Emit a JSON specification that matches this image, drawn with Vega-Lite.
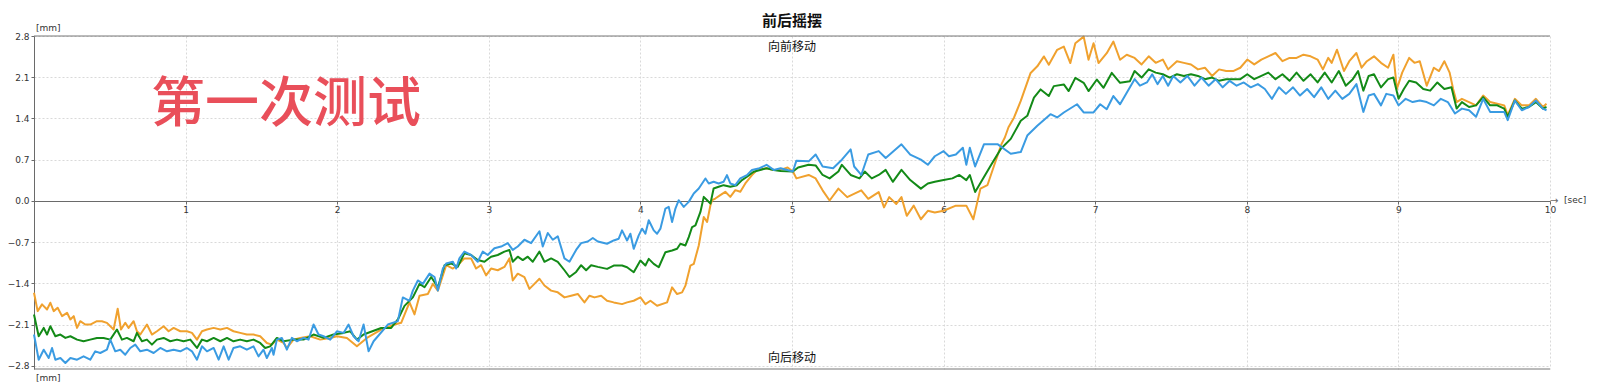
{
  "$schema": "https://vega.github.io/schema/vega-lite/v6.json",
  "width": 1516,
  "height": 333,
  "autosize": "none",
  "padding": {"left": 34, "top": 36, "right": 53, "bottom": 20},
  "background": "white",
  "title": {"text": "前后摇摆", "font": "Noto Sans CJK SC", "fontSize": 15, "fontWeight": "bold", "color": "#111", "anchor": "middle", "offset": 5, "dy": 10},
  "config": {
    "view": {"stroke": null},
    "axis": {"labelFont": "DejaVu Sans", "labelFontSize": 9, "labelColor": "#333", "domainColor": "#6a6a6a", "tickColor": "#6a6a6a", "gridColor": "#d9d9d9", "gridDash": [2, 2], "gridWidth": 1}
  },
  "datasets": {
    "orange": [
      {"t":0,"v":-1.559},{"t":0.024,"v":-1.872},{"t":0.053,"v":-1.758},{"t":0.086,"v":-1.844},{"t":0.108,"v":-1.73},{"t":0.13,"v":-1.872},{"t":0.156,"v":-1.815},{"t":0.185,"v":-1.957},{"t":0.218,"v":-1.901},{"t":0.24,"v":-2.014},{"t":0.262,"v":-1.957},{"t":0.284,"v":-2.157},{"t":0.305,"v":-2.043},{"t":0.338,"v":-2.1},{"t":0.371,"v":-2.1},{"t":0.415,"v":-2.043},{"t":0.448,"v":-2.043},{"t":0.481,"v":-2.071},{"t":0.525,"v":-2.185},{"t":0.552,"v":-1.832},{"t":0.574,"v":-2.185},{"t":0.602,"v":-2.071},{"t":0.624,"v":-2.157},{"t":0.657,"v":-2.043},{"t":0.679,"v":-2.214},{"t":0.701,"v":-2.27},{"t":0.745,"v":-2.1},{"t":0.778,"v":-2.27},{"t":0.811,"v":-2.214},{"t":0.855,"v":-2.128},{"t":0.888,"v":-2.214},{"t":0.921,"v":-2.157},{"t":0.965,"v":-2.214},{"t":1.009,"v":-2.214},{"t":1.042,"v":-2.242},{"t":1.075,"v":-2.356},{"t":1.108,"v":-2.214},{"t":1.141,"v":-2.185},{"t":1.185,"v":-2.157},{"t":1.229,"v":-2.185},{"t":1.273,"v":-2.157},{"t":1.316,"v":-2.214},{"t":1.36,"v":-2.242},{"t":1.404,"v":-2.27},{"t":1.448,"v":-2.27},{"t":1.492,"v":-2.299},{"t":1.536,"v":-2.413},{"t":1.569,"v":-2.441},{"t":1.602,"v":-2.356},{"t":1.646,"v":-2.413},{"t":1.668,"v":-2.498},{"t":1.712,"v":-2.356},{"t":1.756,"v":-2.327},{"t":1.822,"v":-2.299},{"t":1.888,"v":-2.356},{"t":1.954,"v":-2.327},{"t":1.998,"v":-2.299},{"t":2.064,"v":-2.327},{"t":2.13,"v":-2.47},{"t":2.196,"v":-2.327},
      {"t":2.29,"v":-2.186},{"t":2.378,"v":-2.1},{"t":2.422,"v":-2.071},{"t":2.477,"v":-1.725},{"t":2.51,"v":-1.927},{"t":2.543,"v":-1.61},{"t":2.598,"v":-1.581},{"t":2.631,"v":-1.409},{"t":2.664,"v":-1.524},{"t":2.719,"v":-1.092},{"t":2.763,"v":-1.149},{"t":2.795,"v":-1.092},{"t":2.839,"v":-0.977},{"t":2.883,"v":-0.977},{"t":2.916,"v":-1.149},{"t":2.949,"v":-1.092},{"t":2.982,"v":-1.265},{"t":3.015,"v":-1.149},{"t":3.059,"v":-1.178},{"t":3.103,"v":-1.121},{"t":3.136,"v":-0.977},{"t":3.158,"v":-1.351},{"t":3.191,"v":-1.236},{"t":3.235,"v":-1.293},{"t":3.268,"v":-1.495},{"t":3.301,"v":-1.409},{"t":3.334,"v":-1.322},{"t":3.367,"v":-1.437},{"t":3.411,"v":-1.524},{"t":3.455,"v":-1.553},{"t":3.499,"v":-1.639},{"t":3.543,"v":-1.61},{"t":3.587,"v":-1.581},{"t":3.631,"v":-1.725},{"t":3.664,"v":-1.61},{"t":3.697,"v":-1.639},{"t":3.741,"v":-1.61},
      {"t":3.78,"v":-1.696},{"t":3.824,"v":-1.724},{"t":3.879,"v":-1.753},{"t":3.912,"v":-1.724},{"t":3.956,"v":-1.696},{"t":4.0,"v":-1.639},{"t":4.033,"v":-1.753},{"t":4.066,"v":-1.696},{"t":4.11,"v":-1.781},{"t":4.176,"v":-1.724},{"t":4.209,"v":-1.468},{"t":4.242,"v":-1.582},{"t":4.275,"v":-1.554},{"t":4.297,"v":-1.44},{"t":4.33,"v":-1.098},{"t":4.352,"v":-1.07},{"t":4.385,"v":-0.757},{"t":4.418,"v":-0.273},{"t":4.44,"v":-0.359},{"t":4.462,"v":-0.074},{"t":4.473,"v":0.011},{"t":4.494,"v":0.04},{"t":4.527,"v":0.097},{"t":4.56,"v":0.154},{"t":4.593,"v":0.068},{"t":4.626,"v":0.182},{"t":4.659,"v":0.154},{"t":4.692,"v":0.296},{"t":4.736,"v":0.438},{"t":4.769,"v":0.524},
      {"t":4.832,"v":0.555},{"t":4.879,"v":0.526},{"t":4.925,"v":0.526},{"t":4.971,"v":0.567},{"t":5.006,"v":0.498},{"t":5.029,"v":0.382},{"t":5.11,"v":0.44},{"t":5.156,"v":0.382},{"t":5.202,"v":0.179},{"t":5.248,"v":0.006},{"t":5.306,"v":0.208},{"t":5.364,"v":0.064},{"t":5.457,"v":0.179},{"t":5.503,"v":0.035},{"t":5.572,"v":0.15},{"t":5.607,"v":-0.11},{"t":5.641,"v":0.064},{"t":5.688,"v":-0.052},{"t":5.722,"v":0.064},{"t":5.757,"v":-0.254},{"t":5.803,"v":-0.081},{"t":5.85,"v":-0.312},{"t":5.896,"v":-0.168},{"t":5.942,"v":-0.197},{"t":6.0,"v":-0.168},{"t":6.081,"v":-0.081},{"t":6.15,"v":-0.081},{"t":6.196,"v":-0.312},{"t":6.243,"v":0.208},{"t":6.289,"v":0.266},{"t":6.335,"v":0.613},{"t":6.381,"v":0.96},{"t":6.404,"v":1.076},{"t":6.428,"v":1.25},
      {"t":6.465,"v":1.417},{"t":6.509,"v":1.697},{"t":6.574,"v":2.173},{"t":6.618,"v":2.285},{"t":6.662,"v":2.453},{"t":6.694,"v":2.313},{"t":6.749,"v":2.565},{"t":6.793,"v":2.621},{"t":6.836,"v":2.341},{"t":6.869,"v":2.677},{"t":6.924,"v":2.789},{"t":6.956,"v":2.397},{"t":6.989,"v":2.677},{"t":7.022,"v":2.341},{"t":7.076,"v":2.509},{"t":7.12,"v":2.705},{"t":7.164,"v":2.397},{"t":7.208,"v":2.481},
      {"t":7.26,"v":2.428},{"t":7.306,"v":2.317},{"t":7.353,"v":2.455},{"t":7.399,"v":2.344},{"t":7.446,"v":2.4},{"t":7.481,"v":2.233},{"t":7.539,"v":2.372},{"t":7.585,"v":2.344},{"t":7.632,"v":2.317},{"t":7.678,"v":2.233},{"t":7.724,"v":2.261},{"t":7.771,"v":2.122},{"t":7.817,"v":2.233},{"t":7.864,"v":2.205},{"t":7.91,"v":2.205},{"t":7.957,"v":2.261},{"t":8.003,"v":2.4},{"t":8.049,"v":2.317},{"t":8.096,"v":2.4},{"t":8.142,"v":2.455},{"t":8.189,"v":2.511},{"t":8.235,"v":2.372},{"t":8.282,"v":2.428},{"t":8.328,"v":2.428},{"t":8.374,"v":2.483},{"t":8.421,"v":2.455},{"t":8.467,"v":2.4},{"t":8.502,"v":2.233},{"t":8.537,"v":2.428},{"t":8.56,"v":2.344},{"t":8.595,"v":2.567},{"t":8.641,"v":2.205},{"t":8.676,"v":2.372},{"t":8.723,"v":2.511},{"t":8.757,"v":2.261},{"t":8.792,"v":2.372},{"t":8.839,"v":2.455},{"t":8.885,"v":2.344},{"t":8.932,"v":2.261},{"t":8.967,"v":2.483},{"t":8.99,"v":1.9},{"t":9.025,"v":2.178},{"t":9.071,"v":2.428},{"t":9.106,"v":2.344},{"t":9.141,"v":2.372},{"t":9.187,"v":1.956},{"t":9.234,"v":2.261},{"t":9.268,"v":2.205},{"t":9.303,"v":2.372},{"t":9.338,"v":2.178},{"t":9.361,"v":1.9},{"t":9.384,"v":1.678},{"t":9.419,"v":1.733},{"t":9.466,"v":1.678},{"t":9.512,"v":1.622},{"t":9.559,"v":1.789},{"t":9.605,"v":1.678},{"t":9.652,"v":1.65},{"t":9.698,"v":1.622},{"t":9.721,"v":1.455},{"t":9.768,"v":1.733},{"t":9.814,"v":1.622},{"t":9.861,"v":1.622},{"t":9.907,"v":1.733},{"t":9.953,"v":1.594},{"t":9.977,"v":1.65}
    ],
    "green": [
      {"t":0,"v":-1.929},{"t":0.031,"v":-2.299},{"t":0.064,"v":-2.157},{"t":0.086,"v":-2.27},{"t":0.108,"v":-2.128},{"t":0.141,"v":-2.299},{"t":0.174,"v":-2.27},{"t":0.207,"v":-2.327},{"t":0.24,"v":-2.299},{"t":0.284,"v":-2.356},{"t":0.327,"v":-2.384},{"t":0.371,"v":-2.356},{"t":0.415,"v":-2.327},{"t":0.459,"v":-2.327},{"t":0.503,"v":-2.356},{"t":0.547,"v":-2.185},{"t":0.58,"v":-2.356},{"t":0.613,"v":-2.327},{"t":0.657,"v":-2.384},{"t":0.679,"v":-2.242},{"t":0.712,"v":-2.384},{"t":0.745,"v":-2.356},{"t":0.778,"v":-2.441},{"t":0.811,"v":-2.356},{"t":0.855,"v":-2.327},{"t":0.899,"v":-2.384},{"t":0.943,"v":-2.356},{"t":0.987,"v":-2.384},{"t":1.031,"v":-2.356},{"t":1.075,"v":-2.498},{"t":1.108,"v":-2.356},{"t":1.141,"v":-2.384},{"t":1.185,"v":-2.327},{"t":1.229,"v":-2.384},{"t":1.273,"v":-2.327},{"t":1.316,"v":-2.384},{"t":1.36,"v":-2.356},{"t":1.404,"v":-2.384},{"t":1.448,"v":-2.356},{"t":1.492,"v":-2.413},{"t":1.525,"v":-2.498},{"t":1.558,"v":-2.47},{"t":1.602,"v":-2.327},{"t":1.646,"v":-2.384},{"t":1.712,"v":-2.356},{"t":1.778,"v":-2.356},{"t":1.844,"v":-2.27},{"t":1.91,"v":-2.327},{"t":1.976,"v":-2.27},{"t":2.042,"v":-2.242},{"t":2.086,"v":-2.214},{"t":2.13,"v":-2.356},{"t":2.174,"v":-2.27},
      {"t":2.29,"v":-2.158},{"t":2.356,"v":-2.158},{"t":2.4,"v":-2.014},{"t":2.444,"v":-1.783},{"t":2.499,"v":-1.639},{"t":2.543,"v":-1.409},{"t":2.576,"v":-1.466},{"t":2.62,"v":-1.293},{"t":2.664,"v":-1.466},{"t":2.708,"v":-1.092},{"t":2.752,"v":-1.063},{"t":2.795,"v":-1.121},{"t":2.839,"v":-0.89},{"t":2.883,"v":-0.919},{"t":2.927,"v":-1.005},{"t":2.971,"v":-1.034},{"t":3.015,"v":-0.948},{"t":3.059,"v":-0.919},{"t":3.103,"v":-0.861},{"t":3.136,"v":-0.833},{"t":3.158,"v":-1.034},{"t":3.191,"v":-0.948},{"t":3.224,"v":-1.005},{"t":3.257,"v":-0.948},{"t":3.29,"v":-1.034},{"t":3.334,"v":-0.861},{"t":3.367,"v":-1.034},{"t":3.411,"v":-0.977},{"t":3.455,"v":-1.034},{"t":3.499,"v":-1.178},{"t":3.532,"v":-1.293},{"t":3.576,"v":-1.207},{"t":3.609,"v":-1.092},{"t":3.642,"v":-1.178},{"t":3.675,"v":-1.092},{"t":3.719,"v":-1.121},
      {"t":3.78,"v":-1.155},{"t":3.824,"v":-1.098},{"t":3.879,"v":-1.098},{"t":3.912,"v":-1.127},{"t":3.956,"v":-1.212},{"t":4.0,"v":-1.013},{"t":4.033,"v":-1.098},{"t":4.055,"v":-0.985},{"t":4.088,"v":-1.07},{"t":4.121,"v":-1.127},{"t":4.165,"v":-0.871},{"t":4.209,"v":-0.842},{"t":4.242,"v":-0.814},{"t":4.264,"v":-0.728},{"t":4.297,"v":-0.757},{"t":4.319,"v":-0.615},{"t":4.341,"v":-0.444},{"t":4.363,"v":-0.415},{"t":4.396,"v":-0.188},{"t":4.418,"v":0.068},{"t":4.44,"v":0.011},{"t":4.462,"v":-0.046},{"t":4.483,"v":0.211},{"t":4.516,"v":0.239},{"t":4.549,"v":0.267},{"t":4.593,"v":0.239},{"t":4.637,"v":0.267},{"t":4.67,"v":0.353},{"t":4.703,"v":0.41},{"t":4.747,"v":0.495},
      {"t":4.832,"v":0.555},{"t":4.879,"v":0.526},{"t":4.925,"v":0.509},{"t":5.006,"v":0.498},{"t":5.04,"v":0.567},{"t":5.11,"v":0.613},{"t":5.156,"v":0.602},{"t":5.202,"v":0.44},{"t":5.248,"v":0.382},{"t":5.306,"v":0.498},{"t":5.329,"v":0.613},{"t":5.387,"v":0.44},{"t":5.445,"v":0.382},{"t":5.48,"v":0.498},{"t":5.526,"v":0.382},{"t":5.572,"v":0.44},{"t":5.618,"v":0.526},{"t":5.665,"v":0.324},{"t":5.722,"v":0.526},{"t":5.78,"v":0.353},{"t":5.85,"v":0.208},{"t":5.896,"v":0.295},{"t":5.942,"v":0.324},{"t":6.0,"v":0.353},{"t":6.058,"v":0.382},{"t":6.104,"v":0.44},{"t":6.15,"v":0.353},{"t":6.173,"v":0.44},{"t":6.208,"v":0.15},
      {"t":6.312,"v":0.605},{"t":6.378,"v":0.885},{"t":6.443,"v":1.053},{"t":6.509,"v":1.361},{"t":6.552,"v":1.445},{"t":6.596,"v":1.753},{"t":6.64,"v":1.893},{"t":6.694,"v":1.781},{"t":6.727,"v":1.949},{"t":6.793,"v":1.977},{"t":6.825,"v":1.865},{"t":6.869,"v":2.089},{"t":6.924,"v":2.005},{"t":6.956,"v":1.865},{"t":7.011,"v":2.061},{"t":7.055,"v":1.921},{"t":7.109,"v":2.173},{"t":7.164,"v":2.005},{"t":7.229,"v":2.033},
      {"t":7.26,"v":2.205},{"t":7.306,"v":2.094},{"t":7.353,"v":2.233},{"t":7.399,"v":2.178},{"t":7.446,"v":2.15},{"t":7.492,"v":2.094},{"t":7.539,"v":2.15},{"t":7.585,"v":2.122},{"t":7.632,"v":2.15},{"t":7.678,"v":2.122},{"t":7.724,"v":2.067},{"t":7.771,"v":2.094},{"t":7.817,"v":2.039},{"t":7.864,"v":2.067},{"t":7.91,"v":2.067},{"t":7.957,"v":2.067},{"t":8.003,"v":2.15},{"t":8.049,"v":2.067},{"t":8.096,"v":2.122},{"t":8.142,"v":2.178},{"t":8.189,"v":2.067},{"t":8.235,"v":2.15},{"t":8.282,"v":2.039},{"t":8.328,"v":2.178},{"t":8.374,"v":2.039},{"t":8.421,"v":2.15},{"t":8.467,"v":2.011},{"t":8.514,"v":2.178},{"t":8.56,"v":2.011},{"t":8.607,"v":2.205},{"t":8.653,"v":1.956},{"t":8.699,"v":2.067},{"t":8.734,"v":2.205},{"t":8.769,"v":1.872},{"t":8.804,"v":2.122},{"t":8.839,"v":2.15},{"t":8.885,"v":1.928},{"t":8.932,"v":2.067},{"t":8.967,"v":2.094},{"t":9.001,"v":1.733},{"t":9.036,"v":1.9},{"t":9.071,"v":2.039},{"t":9.117,"v":2.011},{"t":9.164,"v":1.9},{"t":9.21,"v":1.872},{"t":9.257,"v":2.011},{"t":9.303,"v":1.9},{"t":9.35,"v":1.928},{"t":9.384,"v":1.567},{"t":9.419,"v":1.678},{"t":9.466,"v":1.594},{"t":9.512,"v":1.622},{"t":9.559,"v":1.761},{"t":9.605,"v":1.622},{"t":9.652,"v":1.622},{"t":9.698,"v":1.567},{"t":9.721,"v":1.428},{"t":9.768,"v":1.705},{"t":9.814,"v":1.567},{"t":9.861,"v":1.594},{"t":9.907,"v":1.678},{"t":9.953,"v":1.567},{"t":9.977,"v":1.594}
    ],
    "blue": [
      {"t":0,"v":-2.27},{"t":0.031,"v":-2.697},{"t":0.064,"v":-2.527},{"t":0.097,"v":-2.669},{"t":0.119,"v":-2.498},{"t":0.141,"v":-2.697},{"t":0.174,"v":-2.669},{"t":0.207,"v":-2.754},{"t":0.24,"v":-2.669},{"t":0.284,"v":-2.697},{"t":0.327,"v":-2.64},{"t":0.371,"v":-2.697},{"t":0.404,"v":-2.555},{"t":0.437,"v":-2.583},{"t":0.481,"v":-2.527},{"t":0.503,"v":-2.356},{"t":0.536,"v":-2.555},{"t":0.569,"v":-2.527},{"t":0.602,"v":-2.612},{"t":0.635,"v":-2.498},{"t":0.668,"v":-2.441},{"t":0.701,"v":-2.555},{"t":0.745,"v":-2.527},{"t":0.789,"v":-2.583},{"t":0.833,"v":-2.498},{"t":0.877,"v":-2.555},{"t":0.921,"v":-2.527},{"t":0.965,"v":-2.555},{"t":1.009,"v":-2.498},{"t":1.042,"v":-2.555},{"t":1.075,"v":-2.697},{"t":1.108,"v":-2.47},{"t":1.141,"v":-2.555},{"t":1.185,"v":-2.498},{"t":1.218,"v":-2.697},{"t":1.251,"v":-2.47},{"t":1.284,"v":-2.697},{"t":1.316,"v":-2.498},{"t":1.36,"v":-2.47},{"t":1.404,"v":-2.527},{"t":1.448,"v":-2.47},{"t":1.481,"v":-2.64},{"t":1.514,"v":-2.527},{"t":1.536,"v":-2.669},{"t":1.569,"v":-2.498},{"t":1.58,"v":-2.612},{"t":1.602,"v":-2.356},{"t":1.635,"v":-2.327},{"t":1.668,"v":-2.527},{"t":1.701,"v":-2.327},{"t":1.734,"v":-2.384},{"t":1.778,"v":-2.327},{"t":1.811,"v":-2.356},{"t":1.844,"v":-2.1},{"t":1.877,"v":-2.27},{"t":1.91,"v":-2.299},{"t":1.954,"v":-2.356},{"t":1.998,"v":-2.214},{"t":2.042,"v":-2.242},{"t":2.075,"v":-2.1},{"t":2.108,"v":-2.299},{"t":2.141,"v":-2.384},{"t":2.174,"v":-2.1},{"t":2.207,"v":-2.555},{"t":2.24,"v":-2.384},
      {"t":2.334,"v":-2.1},{"t":2.4,"v":-2.042},{"t":2.433,"v":-1.639},{"t":2.477,"v":-1.697},{"t":2.499,"v":-1.524},{"t":2.532,"v":-1.351},{"t":2.565,"v":-1.409},{"t":2.609,"v":-1.236},{"t":2.642,"v":-1.293},{"t":2.664,"v":-1.524},{"t":2.697,"v":-1.149},{"t":2.719,"v":-1.063},{"t":2.763,"v":-1.034},{"t":2.785,"v":-1.149},{"t":2.806,"v":-0.977},{"t":2.839,"v":-0.861},{"t":2.883,"v":-0.919},{"t":2.927,"v":-1.034},{"t":2.96,"v":-0.861},{"t":2.993,"v":-0.919},{"t":3.037,"v":-0.804},{"t":3.081,"v":-0.775},{"t":3.125,"v":-0.717},{"t":3.158,"v":-0.833},{"t":3.191,"v":-0.775},{"t":3.235,"v":-0.66},{"t":3.279,"v":-0.717},{"t":3.334,"v":-0.516},{"t":3.356,"v":-0.775},{"t":3.389,"v":-0.545},{"t":3.422,"v":-0.66},{"t":3.455,"v":-0.602},{"t":3.499,"v":-0.977},{"t":3.532,"v":-1.034},{"t":3.576,"v":-0.833},{"t":3.609,"v":-0.717},{"t":3.653,"v":-0.689},{"t":3.686,"v":-0.631},{"t":3.719,"v":-0.689},
      {"t":3.78,"v":-0.728},{"t":3.824,"v":-0.672},{"t":3.857,"v":-0.643},{"t":3.879,"v":-0.501},{"t":3.912,"v":-0.672},{"t":3.934,"v":-0.558},{"t":3.956,"v":-0.814},{"t":3.989,"v":-0.586},{"t":4.011,"v":-0.472},{"t":4.033,"v":-0.558},{"t":4.055,"v":-0.33},{"t":4.088,"v":-0.501},{"t":4.11,"v":-0.558},{"t":4.132,"v":-0.472},{"t":4.165,"v":-0.131},{"t":4.187,"v":-0.102},{"t":4.209,"v":-0.359},{"t":4.231,"v":-0.131},{"t":4.253,"v":0.011},{"t":4.286,"v":-0.102},{"t":4.319,"v":-0.017},{"t":4.352,"v":0.125},{"t":4.385,"v":0.211},{"t":4.429,"v":0.381},{"t":4.451,"v":0.296},{"t":4.483,"v":0.324},{"t":4.516,"v":0.296},{"t":4.549,"v":0.324},{"t":4.571,"v":0.438},{"t":4.593,"v":0.296},{"t":4.626,"v":0.267},{"t":4.659,"v":0.381},{"t":4.703,"v":0.438},{"t":4.736,"v":0.524},
      {"t":4.786,"v":0.555},{"t":4.832,"v":0.613},{"t":4.879,"v":0.526},{"t":4.925,"v":0.555},{"t":5.006,"v":0.498},{"t":5.029,"v":0.683},{"t":5.11,"v":0.671},{"t":5.156,"v":0.787},{"t":5.202,"v":0.584},{"t":5.271,"v":0.555},{"t":5.329,"v":0.7},{"t":5.387,"v":0.874},{"t":5.41,"v":0.584},{"t":5.457,"v":0.44},{"t":5.503,"v":0.787},{"t":5.572,"v":0.845},{"t":5.618,"v":0.729},{"t":5.722,"v":0.96},{"t":5.78,"v":0.787},{"t":5.85,"v":0.7},{"t":5.896,"v":0.613},{"t":5.942,"v":0.758},{"t":6.0,"v":0.845},{"t":6.035,"v":0.758},{"t":6.081,"v":0.787},{"t":6.127,"v":0.902},{"t":6.15,"v":0.613},{"t":6.173,"v":0.902},{"t":6.208,"v":0.584},{"t":6.266,"v":0.96},{"t":6.358,"v":0.96},
      {"t":6.443,"v":0.801},{"t":6.509,"v":0.829},{"t":6.552,"v":1.109},{"t":6.618,"v":1.277},{"t":6.705,"v":1.473},{"t":6.749,"v":1.417},{"t":6.793,"v":1.501},{"t":6.88,"v":1.641},{"t":6.924,"v":1.501},{"t":6.989,"v":1.501},{"t":7.033,"v":1.641},{"t":7.076,"v":1.557},{"t":7.12,"v":1.781},{"t":7.164,"v":1.641},{"t":7.208,"v":1.837},
      {"t":7.26,"v":2.067},{"t":7.295,"v":1.956},{"t":7.341,"v":2.011},{"t":7.376,"v":2.15},{"t":7.411,"v":1.983},{"t":7.446,"v":2.122},{"t":7.481,"v":1.956},{"t":7.515,"v":2.122},{"t":7.562,"v":2.011},{"t":7.608,"v":2.122},{"t":7.655,"v":1.956},{"t":7.701,"v":2.094},{"t":7.748,"v":1.956},{"t":7.794,"v":2.067},{"t":7.841,"v":1.928},{"t":7.887,"v":2.039},{"t":7.933,"v":1.956},{"t":7.98,"v":2.011},{"t":8.026,"v":1.928},{"t":8.073,"v":1.983},{"t":8.119,"v":1.9},{"t":8.166,"v":1.733},{"t":8.212,"v":1.928},{"t":8.258,"v":1.817},{"t":8.305,"v":1.928},{"t":8.351,"v":1.789},{"t":8.398,"v":1.9},{"t":8.444,"v":1.761},{"t":8.491,"v":1.928},{"t":8.537,"v":1.733},{"t":8.584,"v":1.872},{"t":8.63,"v":1.733},{"t":8.676,"v":1.817},{"t":8.723,"v":1.983},{"t":8.769,"v":1.511},{"t":8.804,"v":1.789},{"t":8.839,"v":1.817},{"t":8.885,"v":1.622},{"t":8.92,"v":1.817},{"t":8.967,"v":1.789},{"t":9.001,"v":1.622},{"t":9.048,"v":1.733},{"t":9.094,"v":1.678},{"t":9.141,"v":1.705},{"t":9.187,"v":1.678},{"t":9.234,"v":1.622},{"t":9.28,"v":1.733},{"t":9.326,"v":1.678},{"t":9.373,"v":1.483},{"t":9.419,"v":1.567},{"t":9.466,"v":1.539},{"t":9.512,"v":1.428},{"t":9.559,"v":1.733},{"t":9.605,"v":1.511},{"t":9.652,"v":1.511},{"t":9.698,"v":1.511},{"t":9.721,"v":1.372},{"t":9.768,"v":1.705},{"t":9.814,"v":1.539},{"t":9.861,"v":1.594},{"t":9.907,"v":1.705},{"t":9.953,"v":1.567},{"t":9.977,"v":1.539}
    ],
    "one": [{}]
  },
  "resolve": {"axis": {"x": "independent"}},
  "layer": [
    {
      "data": {"name": "orange"},
      "mark": {"type": "line", "color": "#f0a12e", "strokeWidth": 2, "strokeJoin": "round"},
      "encoding": {
        "x": {"field": "t", "type": "quantitative", "scale": {"domain": [0, 10], "nice": false, "zero": false},
              "axis": {"orient": "bottom", "offset": -168, "values": [1,2,3,4,5,6,7,8,9,10], "format": "d", "grid": false, "domain": true, "ticks": true, "tickSize": 3, "labelPadding": 1, "labelFlush": false, "title": null}},
        "y": {"field": "v", "type": "quantitative", "scale": {"domain": [-2.855, 2.8], "nice": false, "zero": false},
              "axis": {"orient": "left", "values": [-2.8,-2.1,-1.4,-0.7,0,0.7,1.4,2.1,2.8], "format": ".1f", "grid": true, "domain": true, "ticks": true, "tickSize": 3, "labelPadding": 2, "title": null}}
      }
    },
    {
      "data": {"name": "green"},
      "mark": {"type": "line", "color": "#138a17", "strokeWidth": 2, "strokeJoin": "round"},
      "encoding": {
        "x": {"field": "t", "type": "quantitative", "axis": {"orient": "bottom", "values": [1,2,3,4,5,6,7,8,9,10], "grid": true, "labels": false, "ticks": false, "domain": false, "title": null}},
        "y": {"field": "v", "type": "quantitative"}
      }
    },
    {
      "data": {"name": "blue"},
      "mark": {"type": "line", "color": "#3a9be2", "strokeWidth": 2, "strokeJoin": "round"},
      "encoding": {
        "x": {"field": "t", "type": "quantitative", "axis": null},
        "y": {"field": "v", "type": "quantitative"}
      }
    },
    {
      "data": {"name": "one"},
      "mark": {"type": "rule", "color": "#777777", "strokeWidth": 1},
      "encoding": {"y": {"datum": 2.8, "type": "quantitative"}}
    },
    {
      "data": {"name": "one"},
      "mark": {"type": "rule", "color": "#777777", "strokeWidth": 1},
      "encoding": {"y": {"datum": -2.855, "type": "quantitative"}}
    },
    {
      "data": {"name": "one"},
      "mark": {"type": "text", "text": "向前移动", "font": "Noto Sans CJK SC", "fontSize": 12, "color": "#111", "align": "center", "baseline": "middle"},
      "encoding": {"x": {"datum": 5, "type": "quantitative", "axis": null}, "y": {"datum": 2.613, "type": "quantitative"}}
    },
    {
      "data": {"name": "one"},
      "mark": {"type": "text", "text": "向后移动", "font": "Noto Sans CJK SC", "fontSize": 12, "color": "#111", "align": "center", "baseline": "middle"},
      "encoding": {"x": {"datum": 5, "type": "quantitative", "axis": null}, "y": {"datum": -2.664, "type": "quantitative"}}
    },
    {
      "data": {"name": "one"},
      "mark": {"type": "text", "text": "第一次测试", "font": "Noto Sans CJK SC", "fontSize": 54, "fontWeight": 500, "color": "#e94f5a", "align": "center", "baseline": "middle"},
      "encoding": {"x": {"datum": 1.662, "type": "quantitative", "axis": null}, "y": {"datum": 1.604, "type": "quantitative"}}
    },
    {
      "data": {"name": "one"},
      "mark": {"type": "text", "text": "[mm]", "font": "DejaVu Sans", "fontSize": 9, "color": "#333", "align": "left", "baseline": "middle", "dx": 2, "dy": -8},
      "encoding": {"x": {"datum": 0, "type": "quantitative", "axis": null}, "y": {"datum": 2.8, "type": "quantitative"}}
    },
    {
      "data": {"name": "one"},
      "mark": {"type": "text", "text": "[mm]", "font": "DejaVu Sans", "fontSize": 9, "color": "#333", "align": "left", "baseline": "middle", "dx": 2, "dy": 9},
      "encoding": {"x": {"datum": 0, "type": "quantitative", "axis": null}, "y": {"datum": -2.855, "type": "quantitative"}}
    },
    {
      "data": {"name": "one"},
      "mark": {"type": "text", "text": "→", "font": "DejaVu Sans", "fontSize": 10, "color": "#6a6a6a", "align": "left", "baseline": "middle"},
      "encoding": {"x": {"datum": 10, "type": "quantitative", "axis": null}, "y": {"datum": 0, "type": "quantitative"}}
    },
    {
      "data": {"name": "one"},
      "mark": {"type": "text", "text": "[sec]", "font": "DejaVu Sans", "fontSize": 9, "color": "#333", "align": "left", "baseline": "middle", "dx": 14, "dy": -1},
      "encoding": {"x": {"datum": 10, "type": "quantitative", "axis": null}, "y": {"datum": 0, "type": "quantitative"}}
    }
  ]
}
